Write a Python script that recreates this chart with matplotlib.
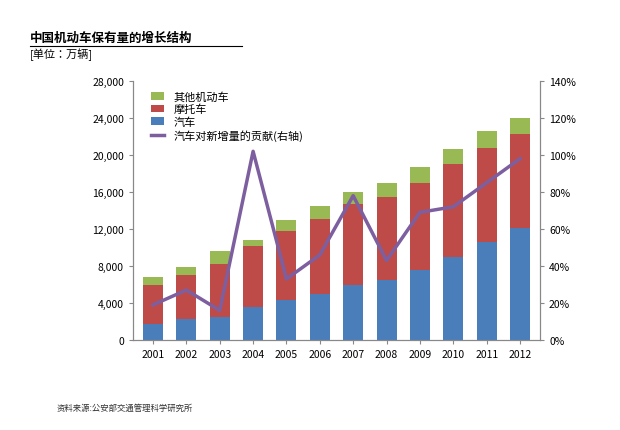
import matplotlib
matplotlib.use("Agg")
import matplotlib.pyplot as plt
from matplotlib import font_manager as fm
import numpy as np

cjk = [f.name for f in fm.fontManager.ttflist if 'CJK' in f.name]
pref = [n for n in cjk if 'SC' in n] + cjk
plt.rcParams['font.family'] = (pref[:1] if pref else []) + ['DejaVu Sans']

years = ['2001','2002','2003','2004','2005','2006','2007','2008','2009','2010','2011','2012']
car = [1.7,2.3,2.5,3.6,4.3,5.0,6.0,6.5,7.6,9.0,10.6,12.1]
moto_top = [6.0,7.0,8.2,10.2,11.8,13.1,14.7,15.5,17.0,19.0,20.8,22.3]
total = [6.8,7.9,9.6,10.8,13.0,14.5,16.0,17.0,18.7,20.6,22.6,24.0]
contrib = [19,27,16,102,33,46,78,43,69,72,85,98]

car = np.array(car)*1000
moto = np.array(moto_top)*1000 - car
other = np.array(total)*1000 - np.array(moto_top)*1000

fig = plt.figure(figsize=(6.2,4.31), dpi=100)
ax = fig.add_axes([133/620, 1-341/431, 407/620, 259/431])
x = np.arange(len(years))
w = 0.6
ax.bar(x, car, w, color='#4a7ebb', label='汽车')
ax.bar(x, moto, w, bottom=car, color='#be4b48', label='摩托车')
ax.bar(x, other, w, bottom=car+moto, color='#98b954', label='其他机动车')
ax.set_ylim(0, 28000)
ax.set_yticks(range(0, 28001, 4000))
ax.set_yticklabels([f'{v:,}' for v in range(0, 28001, 4000)], fontsize=7.5)
ax.set_xticks(x)
ax.set_xticklabels(years, fontsize=7.5)
ax.set_xlim(-0.6, len(years)-0.4)
ax2 = ax.twinx()
ln, = ax2.plot(x, contrib, color='#7d5fa0', lw=2.5, label='汽车对新增量的贡献(右轴)')
ax2.set_ylim(0, 140)
ax2.set_yticks(range(0, 141, 20))
ax2.set_yticklabels([f'{v}%' for v in range(0, 141, 20)], fontsize=7.5)
for a in (ax, ax2):
    a.spines['top'].set_visible(False)
    a.tick_params(length=3, color='#888888')
    for s in a.spines.values():
        s.set_color('#888888')
h, l = ax.get_legend_handles_labels()
ax.legend([h[2], h[1], h[0], ln], [l[2], l[1], l[0], ln.get_label()],
          loc='upper left', bbox_to_anchor=(0.02, 1.0), frameon=False,
          fontsize=8, handlelength=1.2, labelspacing=0.2)
fig.text(30/620, 1-38/431, '中国机动车保有量的增长结构', fontsize=9, fontweight='bold', va='center')
fig.add_artist(plt.Line2D([30/620, 242/620], [1-47/431, 1-47/431], color='black', lw=0.8))
fig.text(30/620, 1-55/431, '[单位：万辆]', fontsize=8, va='center')
fig.text(57/620, 1-408/431, '资料来源:公安部交通管理科学研究所', fontsize=6, va='center', color='#333333')
fig.savefig('out.png', dpi=100)
